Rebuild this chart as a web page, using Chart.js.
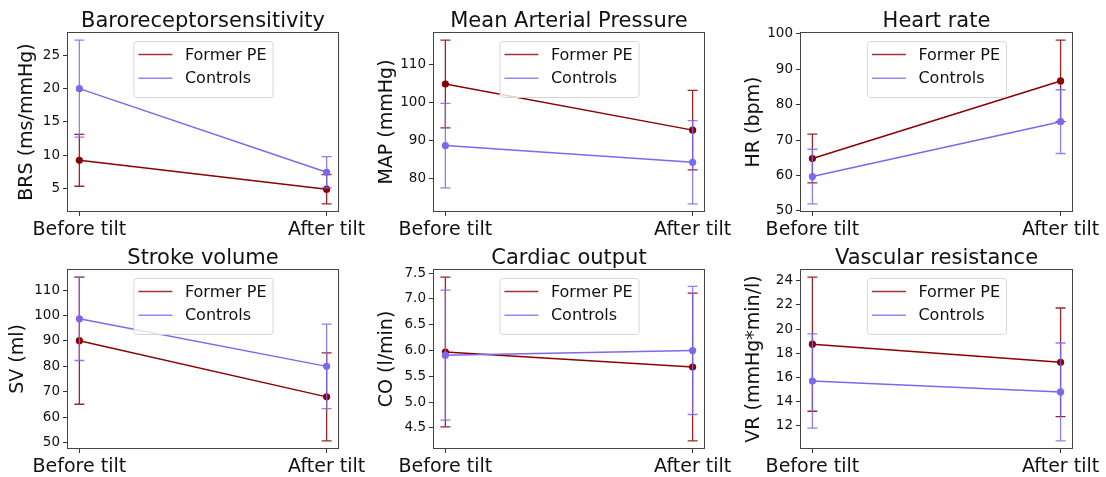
<!DOCTYPE html>
<html>
<head>
<meta charset="utf-8">
<script src="https://cdn.jsdelivr.net/npm/chart.js@4.4.1/dist/chart.umd.min.js"></script>
<style>
  html, body { margin: 0; padding: 0; background: #fff; }
  body { width: 1106px; height: 477px; position: relative; overflow: hidden; }
  canvas { position: absolute; }
</style>
</head>
<body>
<script>
// groups and time points
const categories = ['Before tilt', 'After tilt'];
const seriesNames = ['Former PE', 'Controls'];
const seriesColors = ['#8b0000', '#7b68ee'];

// mean and SD for each measure
const brsFormer = [9.2, 4.85],    brsFormerSd = [3.9, 2.2];
const brsControls = [20.0, 7.4],  brsControlsSd = [7.3, 2.35];
const brsTicks = [5, 10, 15, 20, 25];

const mapFormer = [104.9, 92.7],  mapFormerSd = [11.6, 10.5];
const mapControls = [88.6, 84.2], mapControlsSd = [11.2, 11.0];
const mapTicks = [80, 90, 100, 110];

const hrFormer = [64.8, 86.7],    hrFormerSd = [6.9, 11.5];
const hrControls = [59.7, 75.2],  hrControlsSd = [7.7, 9.0];
const hrTicks = [50, 60, 70, 80, 90, 100];

const svFormer = [90.1, 68.0],    svFormerSd = [25.0, 17.3];
const svControls = [98.7, 80.0],  svControlsSd = [16.4, 16.6];
const svTicks = [50, 60, 70, 80, 90, 100, 110];

const coFormer = [5.97, 5.68],    coFormerSd = [1.45, 1.43];
const coControls = [5.91, 6.0],   coControlsSd = [1.26, 1.24];
const coTicks = [4.5, 5.0, 5.5, 6.0, 6.5, 7.0, 7.5];

const vrFormer = [18.75, 17.25],  vrFormerSd = [5.55, 4.5];
const vrControls = [15.7, 14.8],  vrControlsSd = [3.9, 4.05];
const vrTicks = [12, 14, 16, 18, 20, 22, 24];

const panels = [
  { title: 'Baroreceptorsensitivity', ylabel: 'BRS (ms/mmHg)', series: [brsFormer, brsControls], sd: [brsFormerSd, brsControlsSd], ticks: brsTicks, digits: 0 },
  { title: 'Mean Arterial Pressure', ylabel: 'MAP (mmHg)', series: [mapFormer, mapControls], sd: [mapFormerSd, mapControlsSd], ticks: mapTicks, digits: 0 },
  { title: 'Heart rate', ylabel: 'HR (bpm)', series: [hrFormer, hrControls], sd: [hrFormerSd, hrControlsSd], ticks: hrTicks, digits: 0 },
  { title: 'Stroke volume', ylabel: 'SV (ml)', series: [svFormer, svControls], sd: [svFormerSd, svControlsSd], ticks: svTicks, digits: 0 },
  { title: 'Cardiac output', ylabel: 'CO (l/min)', series: [coFormer, coControls], sd: [coFormerSd, coControlsSd], ticks: coTicks, digits: 1 },
  { title: 'Vascular resistance', ylabel: 'VR (mmHg*min/l)', series: [vrFormer, vrControls], sd: [vrFormerSd, vrControlsSd], ticks: vrTicks, digits: 0 }
];

// page layout of each subplot: axes box and y-label centre
const frames = [
  { l: 67,  t: 32,  r: 339,  b: 212, labelX: 27,  rowTop: 0 },
  { l: 433, t: 32,  r: 705,  b: 212, labelX: 387, rowTop: 0 },
  { l: 800, t: 32,  r: 1073, b: 212, labelX: 754, rowTop: 0 },
  { l: 67,  t: 269, r: 339,  b: 449, labelX: 18,  rowTop: 237 },
  { l: 433, t: 269, r: 705,  b: 449, labelX: 387, rowTop: 237 },
  { l: 800, t: 269, r: 1073, b: 449, labelX: 754, rowTop: 237 }
];

const FONT = "'DejaVu Sans', 'Liberation Sans', sans-serif";

function withAlpha(hex, a) {
  const n = parseInt(hex.slice(1), 16);
  return `rgba(${n >> 16}, ${(n >> 8) & 255}, ${n & 255}, ${a})`;
}

// vertical error bars with caps, drawn with their own dataset
const errorBars = {
  id: 'errorBars',
  afterDatasetDraw(chart, args) {
    const ds = chart.data.datasets[args.index];
    const y = chart.scales.y;
    const ctx = chart.ctx;
    ctx.save();
    ctx.strokeStyle = withAlpha(ds.borderColor, 0.85);
    ctx.lineWidth = 1.3;
    args.meta.data.forEach((pt, i) => {
      const v = ds.data[i].y, e = ds.sd[i];
      const top = y.getPixelForValue(v + e), bot = y.getPixelForValue(v - e);
      ctx.beginPath();
      ctx.moveTo(pt.x, top); ctx.lineTo(pt.x, bot);
      ctx.moveTo(pt.x - 5, top); ctx.lineTo(pt.x + 5, top);
      ctx.moveTo(pt.x - 5, bot); ctx.lineTo(pt.x + 5, bot);
      ctx.stroke();
    });
    ctx.restore();
  }
};

// axes frame, legend and title
const decorations = {
  id: 'decorations',
  afterDatasetsDraw(chart, args, opts) {
    const { ctx, chartArea: a } = chart;
    ctx.save();
    ctx.strokeStyle = '#444';
    ctx.lineWidth = 1;
    ctx.strokeRect(a.left + 0.5, a.top + 0.5, a.right - a.left - 1, a.bottom - a.top - 1);

    // legend, upper centre
    ctx.font = '16px ' + FONT;
    const names = chart.data.datasets.map(d => d.label);
    const textW = Math.max(...names.map(n => ctx.measureText(n).width));
    const w = 6.4 + 32 + 12.8 + textW + 6.4, h = 56;
    const lx = (a.left + a.right) / 2 - w / 2, ly = a.top + 9;
    ctx.beginPath();
    ctx.roundRect(lx + 0.5, ly + 0.5, w, h, 3);
    ctx.fillStyle = 'rgba(255,255,255,0.8)';
    ctx.fill();
    ctx.strokeStyle = '#d6d6d6';
    ctx.stroke();
    chart.data.datasets.forEach((d, i) => {
      const ry = ly + 13.5 + i * 23.7;
      ctx.strokeStyle = withAlpha(d.borderColor, 0.8);
      ctx.lineWidth = 1.5;
      ctx.beginPath();
      ctx.moveTo(lx + 5, ry); ctx.lineTo(lx + 39, ry);
      ctx.stroke();
      ctx.fillStyle = '#111';
      ctx.textBaseline = 'middle';
      ctx.textAlign = 'left';
      ctx.fillText(d.label, lx + 51.5, ry + 1);
    });

    ctx.font = '21px ' + FONT;
    ctx.fillStyle = '#111';
    ctx.textAlign = 'center';
    ctx.textBaseline = 'alphabetic';
    ctx.fillText(opts.text, (a.left + a.right) / 2, a.top - 5);
    ctx.restore();
  }
};

function makeChart(p, f) {
  const left = Math.round(f.labelX - 11.4);
  const top = f.rowTop;
  const w = f.r + 32 - left, h = 240;
  const canvas = document.createElement('canvas');
  canvas.width = w; canvas.height = h;
  canvas.style.left = left + 'px';
  canvas.style.top = top + 'px';
  canvas.style.width = w + 'px';
  canvas.style.height = h + 'px';
  document.body.appendChild(canvas);

  // matplotlib-style autoscale: data extent plus 5% margin
  let lo = Infinity, hi = -Infinity;
  p.series.forEach((s, k) => s.forEach((v, i) => {
    lo = Math.min(lo, v - p.sd[k][i]);
    hi = Math.max(hi, v + p.sd[k][i]);
  }));
  const pad = (hi - lo) * 0.05;

  const datasets = p.series.map((s, k) => ({
    label: seriesNames[k],
    data: s.map((v, i) => ({ x: i, y: v })),
    sd: p.sd[k],
    borderColor: seriesColors[k],
    backgroundColor: seriesColors[k],
    borderWidth: 1.5,
    pointRadius: 3.6,
    pointBorderWidth: 0,
    tension: 0,
    order: 1 - k
  }));

  new Chart(canvas, {
    type: 'line',
    data: { datasets },
    plugins: [errorBars, decorations],
    options: {
      responsive: false,
      animation: false,
      devicePixelRatio: 1,
      layout: { padding: { top: f.t - top, right: 32, left: 0, bottom: 0 } },
      plugins: {
        legend: { display: false },
        tooltip: { enabled: false },
        decorations: { text: p.title }
      },
      scales: {
        x: {
          type: 'linear',
          min: -0.05,
          max: 1.05,
          afterBuildTicks: s => { s.ticks = categories.map((c, i) => ({ value: i })); },
          afterFit: s => { s.height = top + h - f.b; s.paddingLeft = 0; s.paddingRight = 0; },
          grid: { drawOnChartArea: false, drawTicks: true, tickLength: 4, tickColor: '#333' },
          border: { display: false },
          ticks: {
            autoSkip: false, maxRotation: 0, padding: 3, color: '#111',
            font: { family: FONT, size: 19 },
            callback: v => categories[v]
          }
        },
        y: {
          type: 'linear',
          min: lo - pad,
          max: hi + pad,
          afterBuildTicks: s => { s.ticks = p.ticks.map(v => ({ value: v })); },
          afterFit: s => { s.width = f.l - left; s.paddingTop = 0; s.paddingBottom = 0; },
          grid: { drawOnChartArea: false, drawTicks: true, tickLength: 4, tickColor: '#333' },
          border: { display: false },
          ticks: {
            padding: 3, color: '#111',
            font: { family: FONT, size: 13.5 },
            callback: v => v.toFixed(p.digits)
          },
          title: {
            display: true, text: p.ylabel, color: '#111', padding: 0,
            font: { family: FONT, size: 19, lineHeight: 1.2 }
          }
        }
      }
    }
  });
}

panels.forEach((p, i) => makeChart(p, frames[i]));
</script>
</body>
</html>
